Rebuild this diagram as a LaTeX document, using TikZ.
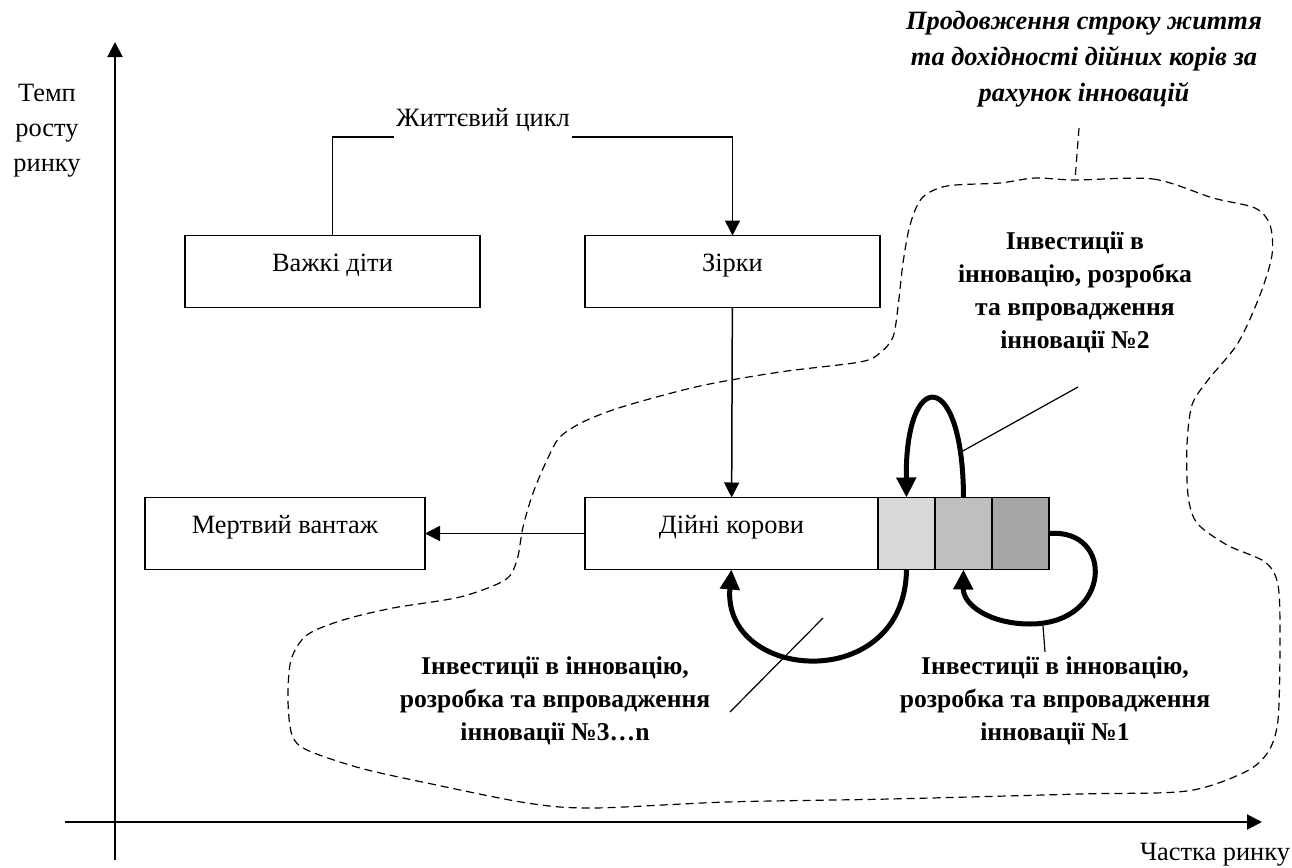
\documentclass[tikz,border=0pt]{standalone}
\usepackage{fontspec}
\setmainfont{Liberation Serif}
\usetikzlibrary{positioning,arrows.meta}

\begin{document}
\begin{tikzpicture}[x=0.5pt, y=-0.5pt, font=\fontsize{13.2}{17.5}\selectfont, box/.style = {draw, line width=0.75pt, minimum width=147.5pt, minimum height=36pt, text height=9pt, text depth=9pt, outer sep=0pt}, cell/.style = {draw, line width=0.75pt, minimum width=28.5pt, minimum height=36pt, inner sep=0pt, outer sep=0pt}, thin arrow/.style = {line width=0.75pt, -{Triangle[length=7.5pt, width=7.5pt]}}, thick arrow/.style = {line width=2.5pt, -{Triangle[length=10pt, width=9.5pt]}}, note/.style = {align=center, font=\fontsize{12.8}{16.5}\selectfont\bfseries}, blob/.style = {line width=0.6pt, dash pattern=on 4pt off 2.5pt}]
\useasboundingbox (0,0) rectangle (1292,868);
% axes
\draw[line width=1pt, -{Triangle[length=7.5pt, width=7.5pt]}] (115,860) -- (115,42);
\draw[line width=1pt, -{Triangle[length=7.5pt, width=7.5pt]}] (65,822) -- (1262,822);
\node[align=center] (growth) at (47,131) {Темп\\росту\\ринку};
\node (share) at (1215,855) {Частка ринку};
% matrix boxes
\node[box] (hard) at (332.5,271.5) {Важкі діти};
\node[box] (stars) at (732.5,271.5) {Зірки};
\node[box, minimum width=146.5pt] (cows) at (731.5,533.5) {Дійні корови};
\node[box, minimum width=140pt] (dead) at (285,533.5) {Мертвий вантаж};
\node[cell, fill=black!15, right=0pt of cows] (cell1) {};
\node[cell, fill=black!25, right=0pt of cell1] (cell2) {};
\node[cell, fill=black!35, right=0pt of cell2] (cell3) {};
\node[anchor=south, inner xsep=1pt, inner ysep=2.5pt] (cycle) at (483,137) {Життєвий цикл};
\draw[line width=0.75pt] (hard.north) |- (cycle.south west);
\draw[thin arrow] (cycle.south east) -| (stars.north);
\draw[thin arrow] (stars) -- (cows);
\draw[thin arrow] (cows) -- (dead);
% innovation loops
\draw[thick arrow] (cell2.north) .. controls (963,367) and (905,367) .. (cell1.north);
\draw[thick arrow] (cell3.east) .. controls (1115,528) and (1112,624) .. (1030,624) .. controls (990,624) and (963,605) .. (cell2.south);
\draw[thick arrow] (cell1.south) .. controls (905,695) and (722,682) .. (cows.south);
% notes
\node[note] (inno2) at (1075,292) {Інвестиції в\\інновацію, розробка\\та впровадження\\інновації №2};
\node[note] (inno3) at (555,701) {Інвестиції в інновацію,\\розробка та впровадження\\інновації №3…n};
\node[note] (inno1) at (1055,701) {Інвестиції в інновацію,\\розробка та впровадження\\інновації №1};
\node[align=center, font=\fontsize{13.2}{18}\selectfont\bfseries\itshape] (extend) at (1084,59) {Продовження строку життя\\та дохідності дійних корів за\\рахунок інновацій};
\coordinate (lead2a) at (1078,387);
\coordinate (lead2b) at (961,452);
\coordinate (lead1a) at (1043,626);
\coordinate (lead1b) at (1045,652);
\coordinate (lead3a) at (823,618);
\coordinate (lead3b) at (730,712);
\draw[line width=0.6pt] (lead2a) -- (lead2b);
\draw[line width=0.6pt] (lead1a) -- (lead1b);
\draw[line width=0.6pt] (lead3a) -- (lead3b);
% area of extended life
\coordinate (hook) at (1075,180);
\draw[blob] (1079,128) -- (hook);
\draw[blob] plot[smooth cycle, tension=0.5] coordinates {(1075,180) (1153,179) (1213,198) (1255,208) (1270,225) (1272,255) (1260,295) (1238,343) (1208,380) (1192,405) (1187,445) (1188,495) (1197,523) (1227,545) (1265,562) (1278,585) (1280,640) (1278,720) (1268,752) (1245,772) (1187,791) (1080,794) (890,799) (727,802) (593,808) (527,803) (427,783) (360,768) (307,750) (292,735) (288,700) (291,660) (307,635) (343,620) (393,608) (460,597) (505,580) (517,560) (523,527) (533,493) (547,460) (560,437) (585,421) (625,406) (700,386) (780,372) (860,362) (880,353) (893,337) (898,307) (903,263) (910,225) (922,198) (947,186) (1000,183) (1035,178)};
\end{tikzpicture}
\end{document}
